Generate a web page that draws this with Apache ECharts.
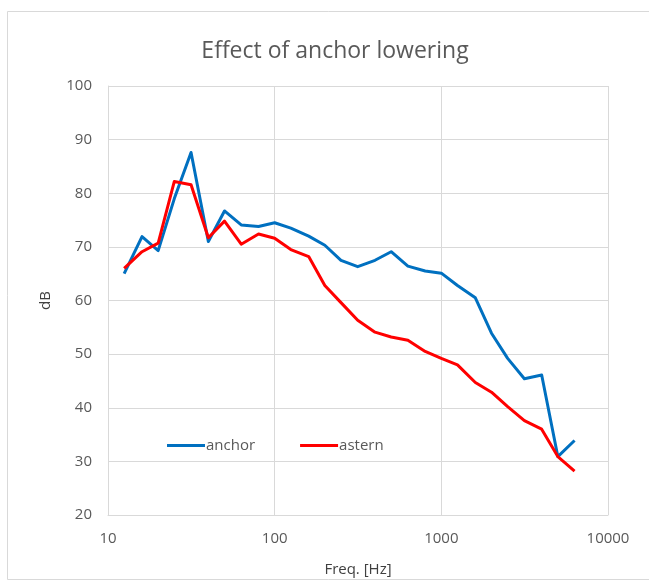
<!DOCTYPE html>
<html>
<head>
<meta charset="utf-8">
<script src="https://cdn.jsdelivr.net/npm/echarts@6/dist/echarts.min.js"></script>
<style>
html,body{margin:0;padding:0;background:#fff;}
#chart{width:649px;height:582px;}
</style>
</head>
<body>
<div id="chart"></div>
<script>
const titleText = 'Effect of anchor lowering';
const freqs = [12.5, 16, 20, 25, 31.5, 40, 50, 63, 80, 100, 125, 160, 200, 250, 315, 400, 500, 630, 800, 1000, 1250, 1600, 2000, 2500, 3150, 4000, 5000, 6300];
const anchorValues = [65.0, 71.9, 69.3, 79.0, 87.6, 71.0, 76.7, 74.1, 73.8, 74.5, 73.5, 72.0, 70.3, 67.5, 66.3, 67.5, 69.1, 66.4, 65.5, 65.1, 62.8, 60.5, 53.9, 49.2, 45.4, 46.1, 30.9, 33.9];
const asternValues = [66.0, 69.1, 70.7, 82.2, 81.6, 71.7, 74.8, 70.5, 72.4, 71.6, 69.5, 68.2, 62.8, 59.6, 56.3, 54.1, 53.2, 52.6, 50.5, 49.2, 48.0, 44.7, 42.9, 40.2, 37.6, 36.0, 30.9, 28.2];
const xTicks = [10, 100, 1000, 10000];
const yMin = 20, yMax = 100, yStep = 10;

const font = '"Open Sans", "Liberation Sans", sans-serif';
const chart = echarts.init(document.getElementById('chart'), null, {renderer: 'canvas'});
chart.setOption({
  animation: false,
  backgroundColor: '#ffffff',
  graphic: [{
    type: 'rect', left: 5, top: 9, z: -10,
    shape: {width: 660, height: 568},
    style: {fill: 'none', stroke: '#d9d9d9', lineWidth: 1}
  }],
  title: {
    text: titleText, left: 330, top: 35, textAlign: 'center',
    textStyle: {fontFamily: font, fontSize: 23, fontWeight: 'normal', color: '#595959'}
  },
  legend: {
    data: ['anchor', 'astern'],
    left: 162, top: 433,
    itemWidth: 38, itemHeight: 3, itemGap: 45,
    icon: 'rect',
    textStyle: {fontFamily: font, fontSize: 15, color: '#595959', padding: [0,0,0,-4]}
  },
  grid: {left: 108, right: 41, top: 86, bottom: 64, containLabel: false},
  xAxis: {
    type: 'log', logBase: 10, min: 10, max: 10000,
    name: 'Freq. [Hz]', nameLocation: 'middle', nameGap: 47,
    nameTextStyle: {fontFamily: font, fontSize: 15, color: '#404040'},
    axisLine: {show: true, lineStyle: {color: '#d9d9d9'}},
    axisTick: {show: false},
    splitLine: {show: true, lineStyle: {color: '#d9d9d9', width: 1}},
    minorTick: {show: false}, minorSplitLine: {show: false},
    axisLabel: {fontFamily: font, fontSize: 15, color: '#595959', margin: 16,
      formatter: v => xTicks.includes(Math.round(v)) ? String(Math.round(v)) : ''}
  },
  yAxis: {
    type: 'value', min: yMin, max: yMax, interval: yStep,
    name: 'dB', nameLocation: 'middle', nameGap: 55, nameRotate: 90,
    nameTextStyle: {fontFamily: font, fontSize: 15, color: '#404040'},
    axisLine: {show: true, lineStyle: {color: '#d9d9d9'}},
    axisTick: {show: false},
    splitLine: {show: true, lineStyle: {color: '#d9d9d9', width: 1}},
    axisLabel: {fontFamily: font, fontSize: 15, color: '#595959', margin: 16}
  },
  series: [
    {name: 'anchor', type: 'line', showSymbol: false, symbol: 'none',
     data: freqs.map((f, i) => [f, anchorValues[i]]),
     lineStyle: {color: '#0070c0', width: 3, join: 'round'}, itemStyle: {color: '#0070c0'}},
    {name: 'astern', type: 'line', showSymbol: false, symbol: 'none',
     data: freqs.map((f, i) => [f, asternValues[i]]),
     lineStyle: {color: '#ff0000', width: 3, join: 'round'}, itemStyle: {color: '#ff0000'}}
  ]
});
</script>
</body>
</html>
